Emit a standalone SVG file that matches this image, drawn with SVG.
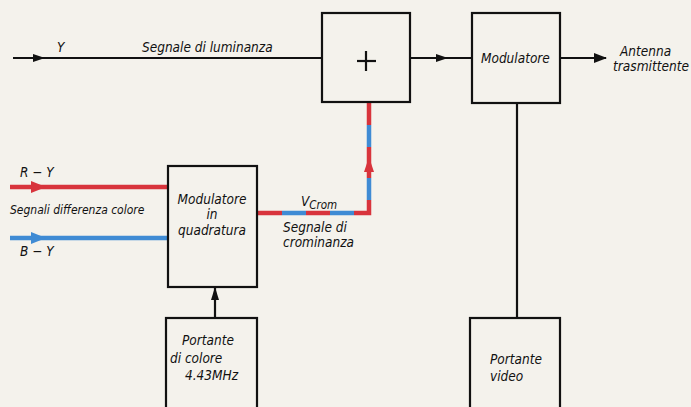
<svg xmlns="http://www.w3.org/2000/svg" width="691" height="407" viewBox="0 0 691 407">
<style>
.box{fill:none;stroke:#111;stroke-width:2.2}
.ln{fill:none;stroke:#111;stroke-width:2.2}
.r{fill:none;stroke:#d8343c;stroke-width:4.5}
.b{fill:none;stroke:#3f8bd4;stroke-width:4.5}
text{font-family:"DejaVu Sans Condensed","Liberation Sans Narrow","Liberation Sans",sans-serif;font-style:italic;font-size:13.5px;fill:#111}
.sm{font-size:12px}
</style>
<rect width="691" height="407" fill="#f4f2ec"/>
<g id="connectors">
<line class="ln" x1="13" y1="58" x2="322" y2="58"/>
<path d="M33,54 L45,58 L33,62 z" fill="#111"/>
<line class="ln" x1="410" y1="58" x2="472" y2="58"/>
<path d="M436,54 L448,58 L436,62 z" fill="#111"/>
<line class="ln" x1="560" y1="58" x2="606" y2="58"/>
<path d="M594,53 L607,58 L594,63 z" fill="#111"/>
<line class="ln" x1="517" y1="103" x2="517" y2="318"/>
<line class="ln" x1="215" y1="318" x2="215" y2="287"/>
<path d="M211,300 L215,287 L219,300 z" fill="#111"/>
<line class="r" x1="10" y1="187" x2="168" y2="187"/>
<path d="M31,181 L46,187 L31,193 z" fill="#d8343c"/>
<line class="b" x1="10" y1="238" x2="168" y2="238"/>
<path d="M31,232 L46,238 L31,244 z" fill="#3f8bd4"/>
<line class="r" x1="257" y1="213" x2="282" y2="213"/>
<line class="b" x1="282" y1="213" x2="306" y2="213"/>
<line class="r" x1="306" y1="213" x2="330" y2="213"/>
<line class="b" x1="330" y1="213" x2="354" y2="213"/>
<polyline class="r" points="354,213 369,213 369,200"/>
<line class="b" x1="369" y1="200" x2="369" y2="178"/>
<line class="r" x1="369" y1="178" x2="369" y2="147"/>
<path d="M364,172 L369,157 L374,172 z" fill="#d8343c"/>
<line class="b" x1="369" y1="147" x2="369" y2="125"/>
<line class="r" x1="369" y1="125" x2="369" y2="102"/>
</g>
<g id="sum">
<rect class="box" x="322" y="13" width="88" height="89"/>
<line class="ln" x1="357" y1="61" x2="376" y2="61" stroke-width="1.5"/>
<line class="ln" x1="366" y1="51" x2="366" y2="71" stroke-width="1.5"/>
</g>
<g id="modulatore">
<rect class="box" x="472" y="13" width="88" height="90"/>
<text x="481" y="63">Modulatore</text>
</g>
<g id="quadratura">
<rect class="box" x="168" y="166" width="89" height="121"/>
<text x="212" y="204" text-anchor="middle">Modulatore</text>
<text x="212" y="219" text-anchor="middle">in</text>
<text x="212" y="235" text-anchor="middle">quadratura</text>
</g>
<g id="portante-colore">
<rect class="box" x="166" y="318" width="91" height="92"/>
<text x="182" y="345">Portante</text>
<text x="170" y="363">di  colore</text>
<text x="185" y="380">4.43MHz</text>
</g>
<g id="portante-video">
<rect class="box" x="470" y="318" width="90" height="92"/>
<text x="490" y="364">Portante</text>
<text x="490" y="381">video</text>
</g>
<g id="labels">
<text x="57" y="52">Y</text>
<text x="142" y="52">Segnale di luminanza</text>
<text x="620" y="56">Antenna</text>
<text x="613" y="71" textLength="76" lengthAdjust="spacingAndGlyphs">trasmittente</text>
<text x="20" y="177">R − Y</text>
<text x="10" y="214" class="sm">Segnali differenza colore</text>
<text x="20" y="256">B − Y</text>
<text x="301" y="206">V<tspan font-size="11.5" dy="3">Crom</tspan></text>
<text x="283" y="232">Segnale di</text>
<text x="283" y="247">crominanza</text>
</g>
</svg>
